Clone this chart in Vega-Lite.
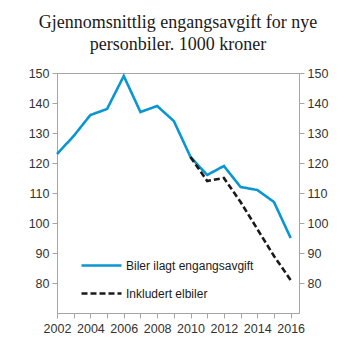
{
  "$schema": "https://vega.github.io/schema/vega-lite/v6.json",
  "width": 242,
  "height": 240,
  "autosize": {"type": "none"},
  "padding": {"left": 57, "top": 73, "right": 54, "bottom": 40},
  "background": "white",
  "title": {
    "text": ["Gjennomsnittlig engangsavgift for nye", "personbiler. 1000 kroner"],
    "font": "Liberation Serif",
    "fontSize": 18,
    "fontWeight": "normal",
    "color": "#1a1a1a",
    "anchor": "middle",
    "lineHeight": 22,
    "offset": 13
  },
  "config": {
    "view": {"stroke": "#a6a6a6", "strokeWidth": 1},
    "axis": {
      "labelFont": "Liberation Sans",
      "labelFontSize": 12.5,
      "labelColor": "#333333",
      "domainColor": "#a6a6a6",
      "tickColor": "#a6a6a6",
      "grid": false,
      "title": null,
      "tickSize": 5
    }
  },
  "data": {
    "values": [
      {"year": 2002, "value": 123, "series": "Biler ilagt engangsavgift"},
      {"year": 2003, "value": 129, "series": "Biler ilagt engangsavgift"},
      {"year": 2004, "value": 136, "series": "Biler ilagt engangsavgift"},
      {"year": 2005, "value": 138, "series": "Biler ilagt engangsavgift"},
      {"year": 2006, "value": 149, "series": "Biler ilagt engangsavgift"},
      {"year": 2007, "value": 137, "series": "Biler ilagt engangsavgift"},
      {"year": 2008, "value": 139, "series": "Biler ilagt engangsavgift"},
      {"year": 2009, "value": 134, "series": "Biler ilagt engangsavgift"},
      {"year": 2010, "value": 122, "series": "Biler ilagt engangsavgift"},
      {"year": 2011, "value": 116, "series": "Biler ilagt engangsavgift"},
      {"year": 2012, "value": 119, "series": "Biler ilagt engangsavgift"},
      {"year": 2013, "value": 112, "series": "Biler ilagt engangsavgift"},
      {"year": 2014, "value": 111, "series": "Biler ilagt engangsavgift"},
      {"year": 2015, "value": 107, "series": "Biler ilagt engangsavgift"},
      {"year": 2016, "value": 95, "series": "Biler ilagt engangsavgift"},
      {"year": 2010, "value": 122, "series": "Inkludert elbiler"},
      {"year": 2011, "value": 114, "series": "Inkludert elbiler"},
      {"year": 2012, "value": 115, "series": "Inkludert elbiler"},
      {"year": 2013, "value": 107, "series": "Inkludert elbiler"},
      {"year": 2014, "value": 98, "series": "Inkludert elbiler"},
      {"year": 2015, "value": 89, "series": "Inkludert elbiler"},
      {"year": 2016, "value": 81, "series": "Inkludert elbiler"}
    ]
  },
  "encoding": {
    "x": {
      "field": "year",
      "type": "quantitative",
      "scale": {"domain": [2002, 2016.5], "nice": false, "zero": false},
      "axis": {
        "values": [2002, 2003, 2004, 2005, 2006, 2007, 2008, 2009, 2010, 2011, 2012, 2013, 2014, 2015, 2016],
        "labelExpr": "datum.value % 2 == 0 ? datum.label : ''",
        "format": "d",
        "labelPadding": 4,
        "labelFlush": false,
        "labelOverlap": false
      }
    }
  },
  "layer": [
    {
      "mark": {"type": "line", "strokeWidth": 2.6},
      "encoding": {
        "y": {
          "field": "value",
          "type": "quantitative",
          "scale": {"domain": [70, 150], "nice": false, "zero": false},
          "axis": {
            "orient": "left",
            "values": [80, 90, 100, 110, 120, 130, 140, 150],
            "labelPadding": 3,
            "labelFlush": false
          }
        },
        "color": {
          "field": "series",
          "type": "nominal",
          "scale": {"domain": ["Biler ilagt engangsavgift", "Inkludert elbiler"], "range": ["#0a96d2", "#1a1a1a"]},
          "legend": {
            "title": null,
            "orient": "none",
            "legendX": 23,
            "legendY": 171,
            "symbolType": "stroke",
            "symbolSize": 1600,
            "symbolStrokeWidth": 2.6,
            "labelFont": "Liberation Sans",
            "labelFontSize": 12,
            "labelColor": "#1a1a1a",
            "rowPadding": -18,
            "labelOffset": 3
          }
        },
        "strokeDash": {
          "field": "series",
          "type": "nominal",
          "scale": {"domain": ["Biler ilagt engangsavgift", "Inkludert elbiler"], "range": [[1, 0], [6, 3]]},
          "legend": null
        }
      }
    },
    {
      "mark": {"type": "line", "strokeOpacity": 0},
      "encoding": {
        "detail": {"field": "series", "type": "nominal"},
        "y": {
          "field": "value",
          "type": "quantitative",
          "scale": {"domain": [70, 150], "nice": false, "zero": false},
          "axis": {
            "orient": "right",
            "values": [80, 90, 100, 110, 120, 130, 140, 150],
            "labelPadding": 3,
            "labelFlush": false
          }
        }
      }
    }
  ],
  "resolve": {"axis": {"y": "independent"}}
}
